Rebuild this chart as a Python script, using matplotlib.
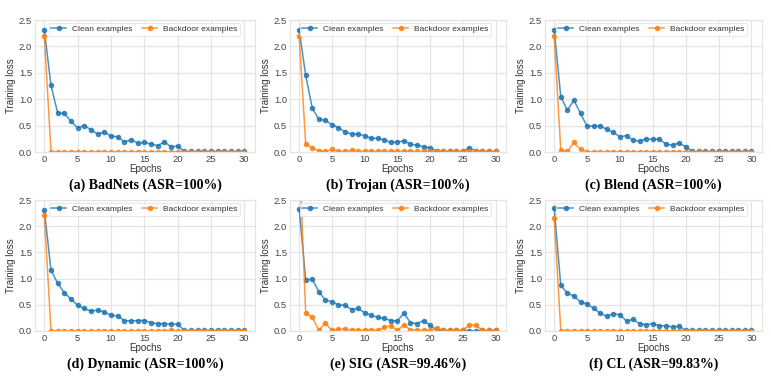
import matplotlib
matplotlib.use("Agg")
import matplotlib.pyplot as plt
import numpy as np

# Training loss per epoch
epochs = np.arange(31)
tail = [0.01] * 9

clean_badnets = [2.31, 1.26, 0.74, 0.73, 0.58, 0.46, 0.50, 0.42, 0.34, 0.38, 0.30,
                 0.29, 0.19, 0.23, 0.17, 0.18, 0.15, 0.12, 0.19, 0.10, 0.11, 0.01] + tail
bd_badnets = [2.19] + [0.005] * 30

clean_trojan = [2.31, 1.45, 0.83, 0.62, 0.60, 0.52, 0.46, 0.38, 0.34, 0.34, 0.31,
                0.26, 0.26, 0.23, 0.18, 0.19, 0.21, 0.15, 0.13, 0.10, 0.08, 0.02,
                0.01, 0.01, 0.01, 0.01, 0.08, 0.02, 0.01, 0.01, 0.01]
bd_trojan = [2.19, 0.15, 0.08, 0.02, 0.01, 0.05, 0.01, 0.01, 0.03, 0.01, 0.01,
             0.01, 0.01, 0.01, 0.01, 0.01, 0.01, 0.01, 0.01, 0.01, 0.01, 0.01,
             0.01, 0.01, 0.01, 0.01, 0.01, 0.01, 0.01, 0.01, 0.01]

clean_blend = [2.31, 1.05, 0.79, 0.98, 0.73, 0.49, 0.49, 0.49, 0.43, 0.37, 0.29,
               0.31, 0.22, 0.21, 0.25, 0.24, 0.24, 0.15, 0.13, 0.17, 0.10, 0.01] + tail
bd_blend = [2.19, 0.03, 0.01, 0.18, 0.05] + [0.005] * 26

clean_dynamic = [2.30, 1.16, 0.91, 0.73, 0.61, 0.49, 0.43, 0.38, 0.40, 0.36, 0.30,
                 0.29, 0.20, 0.19, 0.20, 0.20, 0.16, 0.14, 0.14, 0.13, 0.13, 0.01] + tail
bd_dynamic = [2.21] + [0.005] * 18 + [0.015] + [0.005] * 11

clean_sig = [2.33, 0.98, 0.99, 0.75, 0.59, 0.56, 0.50, 0.49, 0.41, 0.43, 0.35,
             0.30, 0.26, 0.24, 0.20, 0.19, 0.34, 0.16, 0.14, 0.20, 0.11, 0.02,
             0.01, 0.01, 0.01, 0.01, 0.005, 0.005, 0.01, 0.01, 0.01]
bd_sig = [3.42, 0.35, 0.26, 0.02, 0.15, 0.01, 0.04, 0.03, 0.02, 0.01, 0.01,
          0.02, 0.01, 0.07, 0.10, 0.01, 0.12, 0.02, 0.02, 0.01, 0.01, 0.06,
          0.01, 0.01, 0.01, 0.01, 0.12, 0.11, 0.01, 0.01, 0.01]

clean_cl = [2.34, 0.87, 0.72, 0.67, 0.55, 0.52, 0.43, 0.34, 0.28, 0.33, 0.31,
            0.19, 0.22, 0.14, 0.12, 0.14, 0.10, 0.10, 0.08, 0.09, 0.01] + [0.01] * 10
bd_cl = [2.16] + [0.005] * 30

titles = ["(a) BadNets (ASR=100%)", "(b) Trojan (ASR=100%)", "(c) Blend (ASR=100%)",
          "(d) Dynamic (ASR=100%)", "(e) SIG (ASR=99.46%)", "(f) CL (ASR=99.83%)"]
clean_all = [clean_badnets, clean_trojan, clean_blend, clean_dynamic, clean_sig, clean_cl]
bd_all = [bd_badnets, bd_trojan, bd_blend, bd_dynamic, bd_sig, bd_cl]

plt.rcParams["font.family"] = ["Liberation Sans", "DejaVu Sans"]

W, H = 771, 377
fig = plt.figure(figsize=(W / 100, H / 100), dpi=100)

# axes boxes in pixels: (left, right), (top, bottom)
cols = [(35, 255), (290, 506), (545, 762)]
rows = [(20, 152), (200, 331)]

BLUE = "#1f77b4"
ORANGE = "#ff7f0e"
GRID = "#e4e4e4"

for k in range(6):
    r, c = divmod(k, 3)
    l, rr = cols[c]
    t, b = rows[r]
    aw, ah = rr - l, b - t
    ax = fig.add_axes([l / W, 1 - b / H, aw / W, ah / H])
    ax.set_facecolor("white")
    ax.plot(epochs, clean_all[k], color=BLUE, marker="o", markersize=3,
            linewidth=1.1, alpha=0.8, label="Clean examples")
    ax.plot(epochs, bd_all[k], color=ORANGE, marker="o", markersize=3,
            linewidth=1.1, alpha=0.8, label="Backdoor examples")
    ax.set_ylim(0, 2.5)
    ax.set_xlim(-1.4, 31.6)
    ax.set_xticks([0, 5, 10, 15, 20, 25, 30])
    ax.set_yticks([0.0, 0.5, 1.0, 1.5, 2.0, 2.5])
    ax.yaxis.set_major_formatter(matplotlib.ticker.FormatStrFormatter("%.1f"))
    ax.grid(True, color=GRID, linewidth=0.9)
    ax.set_axisbelow(True)
    for s in ax.spines.values():
        s.set_color(GRID)
        s.set_linewidth(0.9)
    ax.tick_params(length=0, labelsize=6.8, colors="#444444", pad=2)
    ax.set_xlabel("Epochs", fontsize=7, color="#333333", labelpad=0)
    ax.set_ylabel("Training loss", fontsize=7, color="#333333", labelpad=2)
    leg = ax.legend(loc="upper right", ncol=2, fontsize=6.0, frameon=True,
                    framealpha=0.85, edgecolor=GRID, borderaxespad=0,
                    bbox_to_anchor=((aw - 15) / aw, (ah - 3) / ah),
                    columnspacing=1.2, handlelength=1.8, handletextpad=0.7,
                    borderpad=0.3)
    leg.get_frame().set_linewidth(0.8)
    for txt in leg.get_texts():
        txt.set_color("#333333")
    fig.text((l + rr) / 2 / W, 1 - (b + 33) / H, titles[k], ha="center", va="center",
             fontsize=10, fontweight="bold", family="Liberation Serif")

fig.savefig("out.png", dpi=100, facecolor="white")
